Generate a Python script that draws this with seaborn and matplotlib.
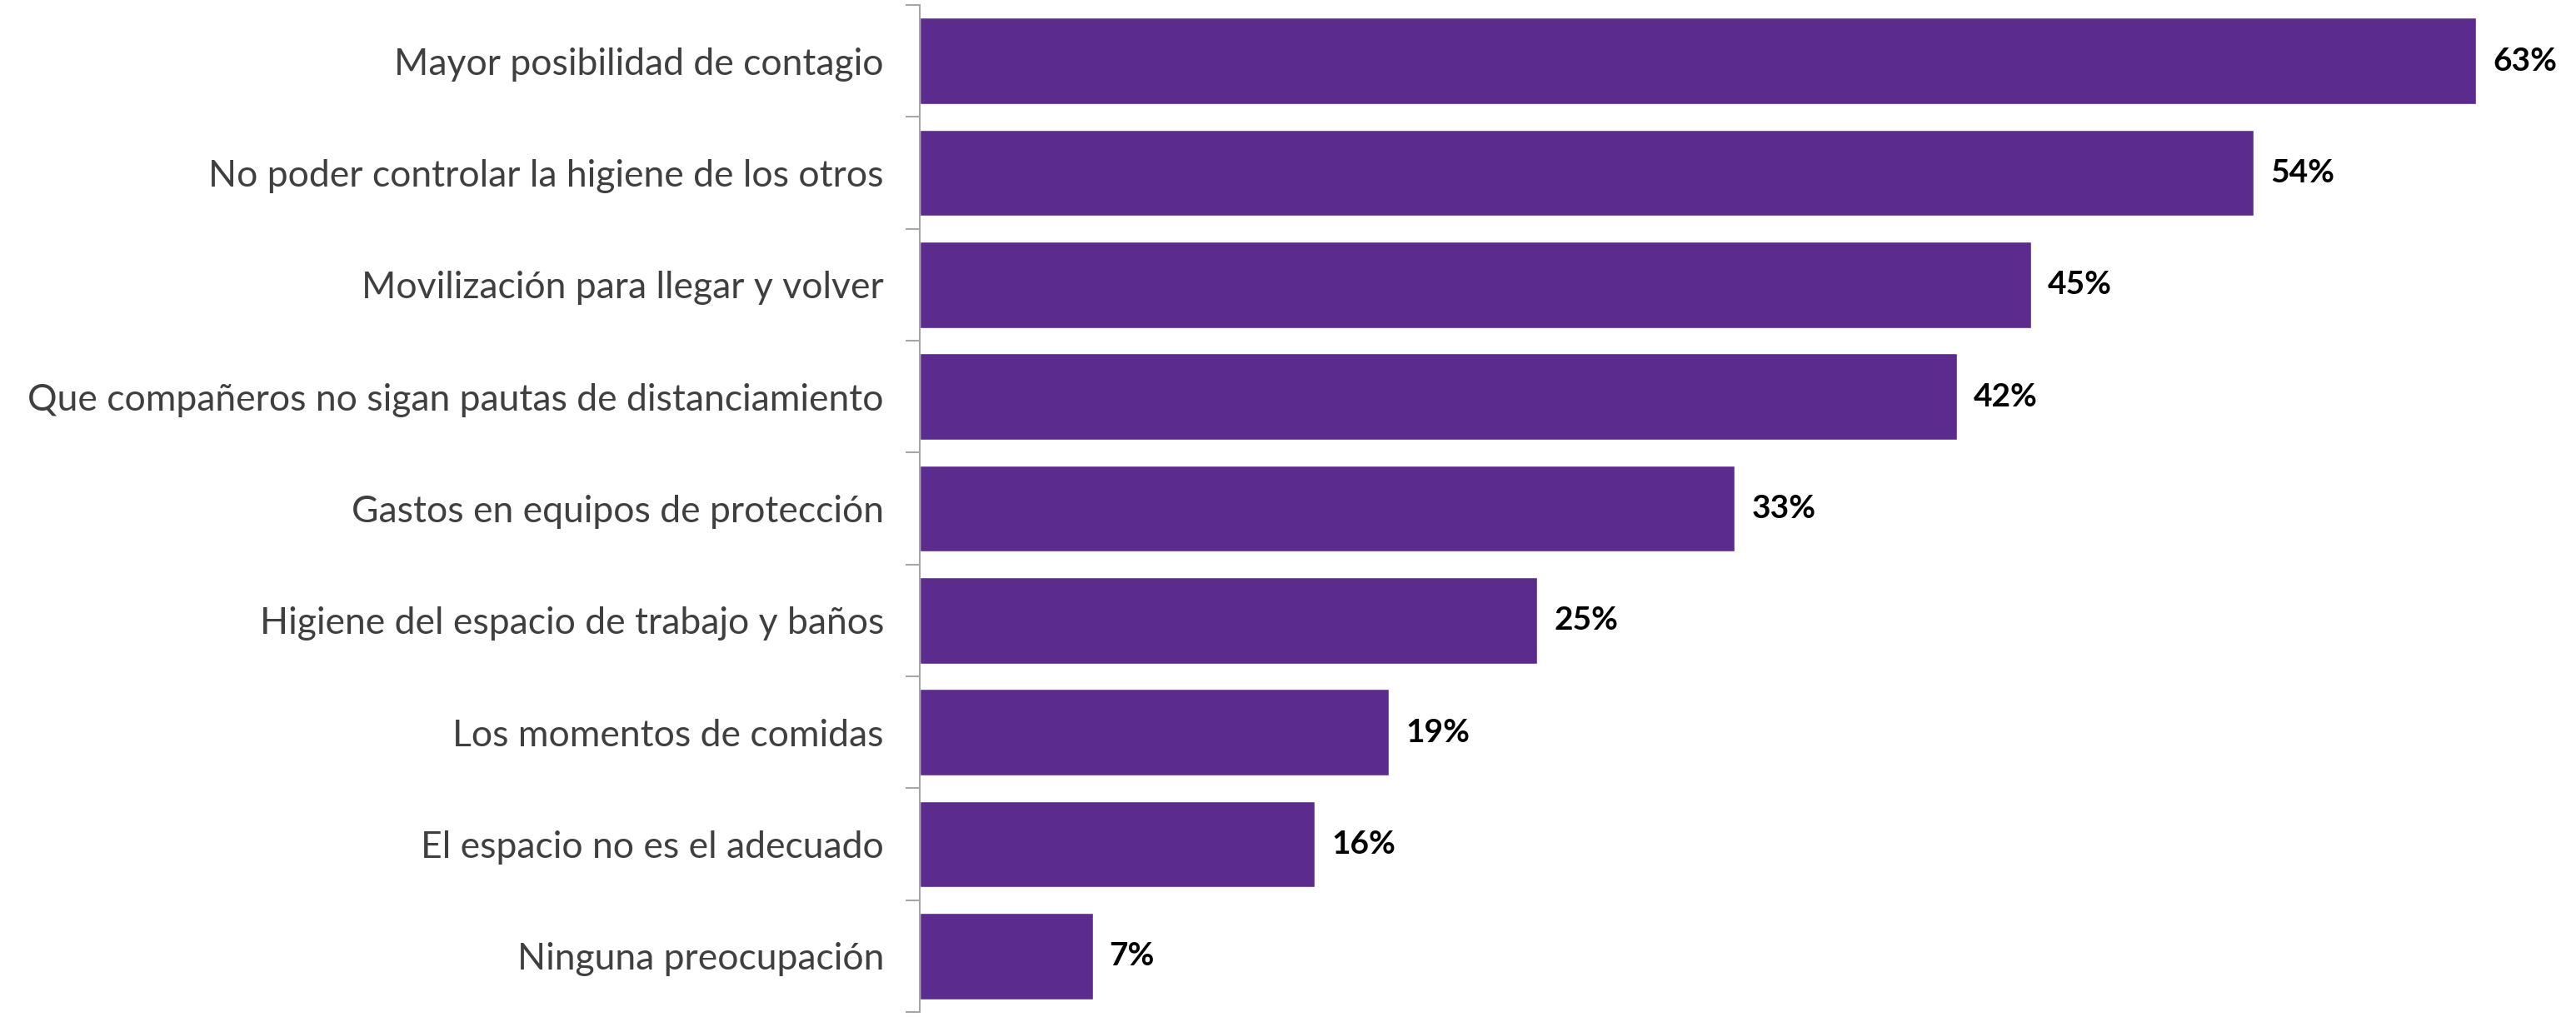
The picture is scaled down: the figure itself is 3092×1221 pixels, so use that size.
import matplotlib
matplotlib.use("Agg")
import matplotlib.pyplot as plt
import seaborn as sns
import pandas as pd

categories = [
    "Mayor posibilidad de contagio",
    "No poder controlar la higiene de los otros",
    "Movilización para llegar y volver",
    "Que compañeros no sigan pautas de distanciamiento",
    "Gastos en equipos de protección",
    "Higiene del espacio de trabajo y baños",
    "Los momentos de comidas",
    "El espacio no es el adecuado",
    "Ninguna preocupación",
]
values = [63, 54, 45, 42, 33, 25, 19, 16, 7]
value_labels = ["63%", "54%", "45%", "42%", "33%", "25%", "19%", "16%", "7%"]

sns.set_theme(style="white")
plt.rcParams["font.family"] = ["Lato", "DejaVu Sans"]

df = pd.DataFrame({"cat": categories, "val": values})

W, H = 3092, 1221
fig = plt.figure(figsize=(W / 100, H / 100), dpi=100)
ax = fig.add_axes([1104 / W, 6 / H, (W - 1104) / W, (1213 - 4) / H])

sns.barplot(data=df, y="cat", x="val", orient="h", color="#5B2C8E",
            saturation=1, width=0.77, ax=ax)

ax.set_xlim(0, (W - 1104) / 29.65)
ax.set_ylim(len(categories) - 0.5, -0.5)
ax.set_xlabel("")
ax.set_ylabel("")
ax.set_xticks([])

for sp in ["top", "right", "bottom"]:
    ax.spines[sp].set_visible(False)
ax.spines["left"].set_color("#A6A6A6")
ax.spines["left"].set_linewidth(1.5)

ax.set_yticks(range(len(categories)))
ax.set_yticklabels(categories, fontsize=32, color="#3F3F3F", fontweight="normal")
ax.tick_params(axis="y", length=0, pad=31)
# boundary ticks
ax.set_yticks([i - 0.5 for i in range(len(categories) + 1)], minor=True)
ax.tick_params(axis="y", which="minor", length=12, width=1.5, color="#A6A6A6", left=True)

for i, (v, lab) in enumerate(zip(values, value_labels)):
    ax.text(v + 20 / 29.65, i, lab, va="center", ha="left", fontsize=28,
            color="black", fontweight="bold")

fig.savefig("out.png", dpi=100, facecolor="white")
